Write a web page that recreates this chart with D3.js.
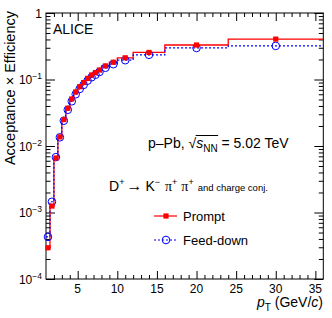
<!DOCTYPE html>
<html>
<head>
<meta charset="utf-8">
<script src="https://cdn.jsdelivr.net/npm/d3@7"></script>
<style>
body { margin: 0; background: #fff; }
text { font-family: "Liberation Sans", Arial, Helvetica, sans-serif; }
</style>
</head>
<body>
<div id="chart"></div>
<script>
// pT bin edges (GeV/c) and efficiencies
var binEdges = [1, 1.5, 2, 2.5, 3, 3.5, 4, 4.5, 5, 5.5, 6, 6.5, 7, 7.5, 8, 9, 10, 12, 16, 24, 36];
var promptEff = [2.95e-4, 1.25e-3, 6.6e-3, 1.37e-2, 2.5e-2, 3.7e-2, 5.1e-2, 6.5e-2, 7.8e-2, 9.0e-2,
                 0.104, 0.117, 0.127, 0.139, 0.160, 0.182, 0.212, 0.255, 0.330, 0.405];
var feedDownEff = [4.3e-4, 1.45e-3, 6.8e-3, 1.35e-2, 2.4e-2, 3.5e-2, 4.7e-2, 6.0e-2, 7.2e-2, 8.3e-2,
                   0.096, 0.108, 0.118, 0.130, 0.150, 0.170, 0.195, 0.235, 0.298, 0.320];
var xTicks = [5, 10, 15, 20, 25, 30, 35];
var yTicks = [1e-4, 1e-3, 1e-2, 1e-1, 1];
var yTickLabels = [["10", "\u22124"], ["10", "\u22123"], ["10", "\u22122"], ["10", "\u22121"], ["1", ""]];

var W = 332, H = 318;
var padL = 46, padR = 323.3, padT = 13, padB = 279;

var svg = d3.select("#chart").append("svg")
    .attr("width", W)
    .attr("height", H);

var x = d3.scaleLinear().domain([1, 36]).range([padL, padR]);
var y = d3.scaleLog().domain([1e-4, 1]).range([padB, padT]);

// minor ticks
var xMinor = d3.range(2, 36).filter(function(v) { return v % 5 !== 0; });
var yMinor = [];
[1e-4, 1e-3, 1e-2, 1e-1].forEach(function(d) {
    for (var k = 2; k <= 9; k++) yMinor.push(d * k);
});

function drawAxis(axis, tx, ty) {
    var g = svg.append("g")
        .attr("transform", "translate(" + tx + "," + ty + ")")
        .call(axis);
    g.select(".domain").remove();
    g.selectAll("line").attr("stroke", "#000").attr("stroke-width", 1);
    g.selectAll("text").remove();
    return g;
}

// ticks point inwards on all four sides (ROOT style)
drawAxis(d3.axisBottom(x).tickValues(xTicks).tickSize(-8).tickFormat(""), 0, padB);
drawAxis(d3.axisBottom(x).tickValues(xMinor).tickSize(-4).tickFormat(""), 0, padB);
drawAxis(d3.axisTop(x).tickValues(xTicks).tickSize(-8).tickFormat(""), 0, padT);
drawAxis(d3.axisTop(x).tickValues(xMinor).tickSize(-4).tickFormat(""), 0, padT);
drawAxis(d3.axisLeft(y).tickValues(yTicks).tickSize(-9).tickFormat(""), padL, 0);
drawAxis(d3.axisLeft(y).tickValues(yMinor).tickSize(-4.5).tickFormat(""), padL, 0);
drawAxis(d3.axisRight(y).tickValues(yTicks).tickSize(-9).tickFormat(""), padR, 0);
drawAxis(d3.axisRight(y).tickValues(yMinor).tickSize(-4.5).tickFormat(""), padR, 0);

svg.append("rect")
    .attr("x", padL).attr("y", padT)
    .attr("width", padR - padL).attr("height", padB - padT)
    .attr("fill", "none").attr("stroke", "#000").attr("stroke-width", 1);

// tick labels
svg.selectAll(".xlab").data(xTicks).enter().append("text")
    .attr("class", "xlab")
    .attr("x", function(d) { return x(d); })
    .attr("y", 293)
    .attr("text-anchor", "middle")
    .attr("font-size", 12)
    .text(function(d) { return d; });

var ylab = svg.selectAll(".ylab").data(yTicks).enter().append("text")
    .attr("class", "ylab")
    .attr("x", 42)
    .attr("y", function(d) { return y(d) + 4.5; })
    .attr("text-anchor", "end")
    .attr("font-size", 12);
ylab.each(function(d, i) {
    var t = d3.select(this);
    t.append("tspan").text(yTickLabels[i][0]);
    if (yTickLabels[i][1]) {
        t.append("tspan").attr("font-size", 8.5).attr("dy", -5).text(yTickLabels[i][1]);
    }
});

// axis titles
svg.append("text")
    .attr("transform", "translate(15,11) rotate(-90)")
    .attr("text-anchor", "end")
    .attr("font-size", 14.5)
    .text("Acceptance \u00d7 Efficiency");

var xt = svg.append("text")
    .attr("x", 323)
    .attr("y", 307)
    .attr("text-anchor", "end")
    .attr("font-size", 14);
xt.append("tspan").attr("font-style", "italic").text("p");
xt.append("tspan").attr("font-size", 10).attr("dy", 4).text("T");
xt.append("tspan").attr("dy", -4).text(" (GeV/");
xt.append("tspan").attr("font-style", "italic").text("c");
xt.append("tspan").text(")");

// histograms
function stepData(vals) {
    var pts = vals.map(function(v, i) { return [binEdges[i], v]; });
    pts.push([binEdges[binEdges.length - 1], vals[vals.length - 1]]);
    return pts;
}
var line = d3.line()
    .x(function(d) { return x(d[0]); })
    .y(function(d) { return y(d[1]); })
    .curve(d3.curveStepAfter);

var red = "#ff0000", blue = "#0000ff";

svg.append("path")
    .attr("d", line(stepData(promptEff)))
    .attr("fill", "none").attr("stroke", red).attr("stroke-width", 1.3);
svg.append("path")
    .attr("d", line(stepData(feedDownEff)))
    .attr("fill", "none").attr("stroke", blue).attr("stroke-width", 1.2)
    .attr("stroke-dasharray", "2,2");

function centre(i) { return (binEdges[i] + binEdges[i + 1]) / 2; }

svg.selectAll(".fd").data(feedDownEff).enter().append("circle")
    .attr("class", "fd")
    .attr("cx", function(d, i) { return x(centre(i)); })
    .attr("cy", function(d) { return y(d); })
    .attr("r", 3.8)
    .attr("fill", "none").attr("stroke", blue).attr("stroke-width", 1);

svg.selectAll(".pr").data(promptEff).enter().append("rect")
    .attr("class", "pr")
    .attr("x", function(d, i) { return x(centre(i)) - 2.6; })
    .attr("y", function(d) { return y(d) - 2.6; })
    .attr("width", 5.2).attr("height", 5.2)
    .attr("fill", red);

// annotations
svg.append("text")
    .attr("x", 53).attr("y", 33.5)
    .attr("font-size", 14)
    .text("ALICE");

var sys = svg.append("text")
    .attr("x", 148).attr("y", 148)
    .attr("font-size", 14);
sys.append("tspan").text("p\u2013Pb, \u221a");
sys.append("tspan").attr("font-style", "italic").text("s");
sys.append("tspan").attr("font-size", 10).attr("dy", 3.5).text("NN");
sys.append("tspan").attr("dy", -3.5).text(" = 5.02 TeV");
// overline of the square root over s_NN
var sn = sys.node();
var ovStart = sn.getEndPositionOfChar(6).x;
var ovEnd = sn.getEndPositionOfChar(9).x;
svg.append("line")
    .attr("x1", ovStart - 0.5).attr("x2", ovEnd + 0.5)
    .attr("y1", 135.5).attr("y2", 135.5)
    .attr("stroke", "#000").attr("stroke-width", 1);

var dec = svg.append("text")
    .attr("x", 109).attr("y", 190.5)
    .attr("font-size", 14);
dec.append("tspan").text("D");
dec.append("tspan").attr("font-size", 9).attr("dy", -6).text("+");
dec.append("tspan").attr("dy", 6).attr("dx", 2).attr("font-size", 16).text("\u2192");
dec.append("tspan").attr("dx", 3).text("K");
dec.append("tspan").attr("font-size", 9).attr("dy", -6).text("\u2212");
dec.append("tspan").attr("dy", 6).attr("dx", 5).attr("font-family", "Liberation Serif, serif").text("\u03c0");
dec.append("tspan").attr("font-size", 9).attr("dy", -6).text("+");
dec.append("tspan").attr("dy", 6).attr("dx", 4).attr("font-family", "Liberation Serif, serif").text("\u03c0");
dec.append("tspan").attr("font-size", 9).attr("dy", -6).text("+");
dec.append("tspan").attr("dy", 6).attr("dx", 4).attr("font-size", 9.5).text("and charge conj.");

// legend
var legend = [
    { label: "Prompt", color: red, dash: null, y: 216 },
    { label: "Feed-down", color: blue, dash: "2,2", y: 240 }
];
legend.forEach(function(d, i) {
    svg.append("line")
        .attr("x1", 154).attr("x2", 177)
        .attr("y1", d.y).attr("y2", d.y)
        .attr("stroke", d.color).attr("stroke-width", 1.2)
        .attr("stroke-dasharray", d.dash);
    if (i === 0) {
        svg.append("rect")
            .attr("x", 166 - 2.6).attr("y", d.y - 2.6)
            .attr("width", 5.2).attr("height", 5.2)
            .attr("fill", d.color);
    } else {
        svg.append("circle")
            .attr("cx", 166).attr("cy", d.y).attr("r", 3.8)
            .attr("fill", "none").attr("stroke", d.color);
    }
    svg.append("text")
        .attr("x", 183).attr("y", d.y + 5)
        .attr("font-size", 13)
        .text(d.label);
});
</script>
</body>
</html>
